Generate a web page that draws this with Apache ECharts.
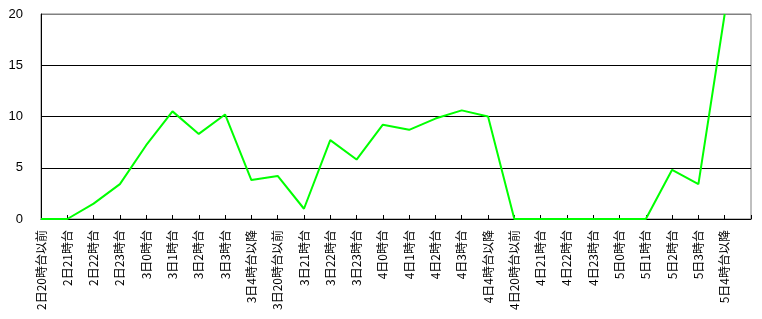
<!DOCTYPE html>
<html><head><meta charset="utf-8">
<script src="https://cdn.jsdelivr.net/npm/echarts@6/dist/echarts.min.js"></script>
<style>html,body{margin:0;padding:0;background:#fff}#c{width:762px;height:319px}</style>
</head><body><div id="c"></div>
<script>
const categories = [
  "2日20時台以前","2日21時台","2日22時台","2日23時台","3日0時台","3日1時台","3日2時台","3日3時台","3日4時台以降",
  "3日20時台以前","3日21時台","3日22時台","3日23時台","4日0時台","4日1時台","4日2時台","4日3時台","4日4時台以降",
  "4日20時台以前","4日21時台","4日22時台","4日23時台","5日0時台","5日1時台","5日2時台","5日3時台","5日4時台以降",
  ""
];
const values = [
  0, 0, 1.5, 3.4, 7.2, 10.5, 8.3, 10.2, 3.8,
  4.2, 1.0, 7.7, 5.8, 9.2, 8.7, 9.8, 10.6, 10.0,
  0, 0, 0, 0, 0, 0, 4.8, 3.4, 20,
  null
];
const yTicks = [0, 5, 10, 15, 20];

const chart = echarts.init(document.getElementById('c'), null, {renderer: 'canvas'});
chart.setOption({
  animation: false,
  backgroundColor: '#fff',
  grid: {left: 41, right: 11, top: 14, bottom: 100, show: true, borderColor: '#808080', borderWidth: 1, backgroundColor: '#fff'},
  xAxis: {
    type: 'category', data: categories, boundaryGap: false,
    axisLine: {lineStyle: {color: '#000', width: 1}},
    axisTick: {show: true, inside: true, length: 4, interval: 0, lineStyle: {color: '#000'}},
    axisLabel: {interval: 0, rotate: 90, fontSize: 12, color: '#000', margin: 11, fontFamily: '"Noto Sans CJK JP", sans-serif'},
    splitLine: {show: false}
  },
  yAxis: {
    type: 'value', min: yTicks[0], max: yTicks[yTicks.length - 1], interval: 5,
    axisLine: {show: true, lineStyle: {color: '#000', width: 1}},
    axisTick: {show: false},
    axisLabel: {fontSize: 13, color: '#000', margin: 18, fontFamily: '"Liberation Sans", Arial, sans-serif',
      formatter: v => yTicks.includes(v) ? String(v) : ''},
    splitLine: {show: true, lineStyle: {color: ['#000', '#000', '#000', '#000', '#808080'], width: 1}}
  },
  series: [{
    type: 'line', data: values, showSymbol: false, symbol: 'none',
    lineStyle: {color: '#00ff00', width: 2}, itemStyle: {color: '#00ff00'},
    connectNulls: false, clip: true
  }]
});
</script></body></html>
